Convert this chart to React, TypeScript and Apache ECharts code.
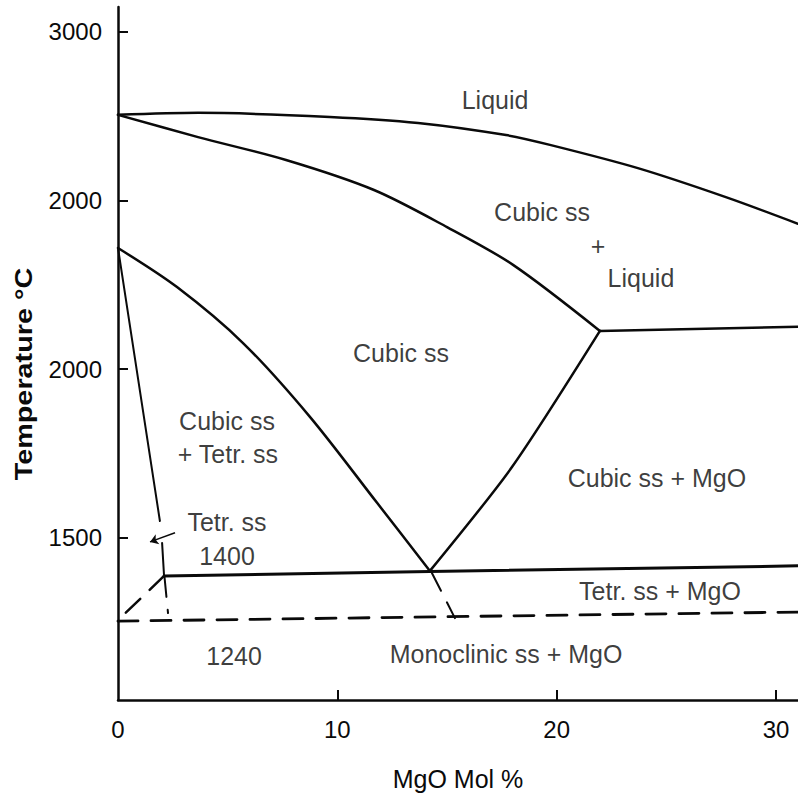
import React, { useEffect, useRef } from "react";
import * as echarts from "echarts";

// ---- axis ticks ----
const xTickValues = [0, 10, 20, 30];
const xTickMarks = [10, 20, 30];
const yTickValues = [1500, 2000, 2500, 3000];
const yTickLabels = ["1500", "2000", "2000", "3000"];

// ---- phase boundaries (MgO mol %, temperature °C) ----
const liquidusX = [0, 3.65, 9.66, 13.68, 17.69, 19.69, 23.7, 27.71, 31];
const liquidusT = [2754, 2760, 2748, 2730, 2694, 2665, 2596, 2510, 2431];

const solidusX = [0, 3.65, 7.66, 11.67, 15.0, 18.01, 21.97];
const solidusT = [2754, 2688, 2620, 2531, 2421, 2309, 2113];

const eutecticX = [21.97, 31];
const eutecticT = [2113, 2125];

const cubicMgoX = [14.22, 17.96, 21.97];
const cubicMgoT = [1401, 1709, 2113];

const cubicTetX = [0, 2.69, 5.7, 8.75, 11.81, 14.22];
const cubicTetT = [2359, 2243, 2077, 1858, 1603, 1401];

const tetUpperX = [0, 1.91];
const tetUpperT = [2359, 1549];
const tetLowerX = [2.01, 2.1];
const tetLowerT = [1484, 1386];

const eutectoidX = [2.1, 14.22, 31];
const eutectoidT = [1386, 1399, 1416];

// dashed (metastable) boundaries
const tetDashAX = [2.1, 0];
const tetDashAT = [1386, 1255];
const tetDashBX = [2.12, 2.28];
const tetDashBT = [1383, 1276];
const monoX = [0, 31];
const monoT = [1252, 1279];
const cubDashX = [14.31, 15.36];
const cubDashT = [1395, 1261];

// arrow from "Tetr. ss" label to the tetragonal field
const arrowFrom = [2.6, 1514];
const arrowTo = [1.46, 1487];

// ---- region labels ----
const labelTexts = [
  "Liquid", "Cubic ss", "+", "Liquid", "Cubic ss", "Cubic ss", "+ Tetr. ss",
  "Tetr. ss", "1400", "Cubic ss + MgO", "Tetr. ss + MgO", "Monoclinic ss + MgO", "1240",
];
const labelX = [17.19, 19.33, 21.88, 23.84, 12.9, 4.97, 5.01, 4.97, 4.97, 24.57, 24.71, 17.69, 5.29];
const labelT = [2798, 2466, 2365, 2270, 2048, 1846, 1748, 1546, 1445, 1677, 1341, 1155, 1149];

const INK = "#0a0a0a";
const FONT = "'Liberation Sans', Arial, sans-serif";
const FS = 25;
const TICK_FS = 24;

const zip = (xs: number[], ts: number[]) => xs.map((x, i) => [x, ts[i]]);

const lineSeries = (xs: number[], ts: number[], dashed = false, smooth: number | boolean = false, width = 2.5) => ({
  type: "line",
  data: zip(xs, ts),
  symbol: "none",
  smooth,
  silent: true,
  lineStyle: { color: INK, width, type: dashed ? [20, 13] : "solid", cap: "round", join: "round" },
  z: 3,
});

export default function App() {
  const ref = useRef<HTMLDivElement>(null);
  useEffect(() => {
    const chart = echarts.init(ref.current!, null, { renderer: "svg" });
    const option: any = {
      animation: false,
      backgroundColor: "#ffffff",
      grid: { left: 118, right: 0, top: 7, bottom: 99, containLabel: false },
      xAxis: {
        type: "value",
        min: 0,
        max: 31,
        name: "MgO Mol %",
        nameLocation: "middle",
        nameGap: 66,
        nameTextStyle: { color: INK, fontSize: FS, fontFamily: FONT },
        axisLine: { show: true, onZero: false, lineStyle: { color: INK, width: 2.5 } },
        axisTick: { show: true, inside: true, length: 10, customValues: xTickMarks, lineStyle: { color: INK, width: 2 } },
        axisLabel: { show: true, customValues: xTickValues, margin: 17, color: INK, fontSize: TICK_FS, fontFamily: FONT },
        splitLine: { show: false },
      },
      yAxis: {
        type: "value",
        min: 1018,
        max: 3074,
        axisLine: { show: true, onZero: false, lineStyle: { color: INK, width: 2.5 } },
        axisTick: { show: true, inside: true, length: 10, customValues: yTickValues, lineStyle: { color: INK, width: 2 } },
        axisLabel: {
          show: true,
          customValues: yTickValues,
          margin: 16,
          color: INK,
          fontSize: TICK_FS,
          fontFamily: FONT,
          formatter: (v: number) => {
            const i = yTickValues.indexOf(v);
            return i >= 0 ? yTickLabels[i] : "";
          },
        },
        splitLine: { show: false },
      },
      graphic: [
        {
          type: "text",
          x: 24,
          y: 374,
          rotation: Math.PI / 2,
          scaleX: 1.2,
          style: {
            text: "Temperature °C",
            fill: INK,
            font: `bold 24px 'Liberation Sans', Arial, sans-serif`,
            textAlign: "center",
            textVerticalAlign: "middle",
          },
        },
      ],
      series: [
        lineSeries(liquidusX, liquidusT, false, 0.3),
        lineSeries(solidusX, solidusT, false, 0.3),
        lineSeries(eutecticX, eutecticT),
        lineSeries(cubicMgoX, cubicMgoT, false, 0.25),
        lineSeries(cubicTetX, cubicTetT, false, 0.3),
        lineSeries(tetUpperX, tetUpperT, false, false, 2),
        lineSeries(tetLowerX, tetLowerT, false, false, 2),
        lineSeries(eutectoidX, eutectoidT, false, false, 3),
        lineSeries(tetDashAX, tetDashAT, true),
        lineSeries(tetDashBX, tetDashBT, true, false, 2),
        lineSeries(monoX, monoT, true, false, 2.8),
        lineSeries(cubDashX, cubDashT, true, false, 2),
        {
          type: "line",
          data: [],
          silent: true,
          markLine: {
            silent: true,
            symbol: ["none", "arrow"],
            symbolSize: 8,
            label: { show: false },
            lineStyle: { color: INK, width: 1.5, type: "solid" },
            data: [[{ coord: arrowFrom }, { coord: arrowTo }]],
          },
        },
        {
          type: "scatter",
          symbolSize: 0,
          silent: true,
          data: labelTexts.map((t, i) => ({ name: t, value: [labelX[i], labelT[i]] })),
          label: {
            show: true,
            position: "inside",
            formatter: (p: any) => p.name,
            color: INK,
            fontSize: FS,
            fontFamily: FONT,
          },
          z: 5,
        },
      ],
    };
    chart.setOption(option);
    return () => chart.dispose();
  }, []);
  return (
    <div
      ref={ref}
      style={{ position: "fixed", left: 0, top: 0, width: 798, height: 799, background: "#fff" }}
    />
  );
}
